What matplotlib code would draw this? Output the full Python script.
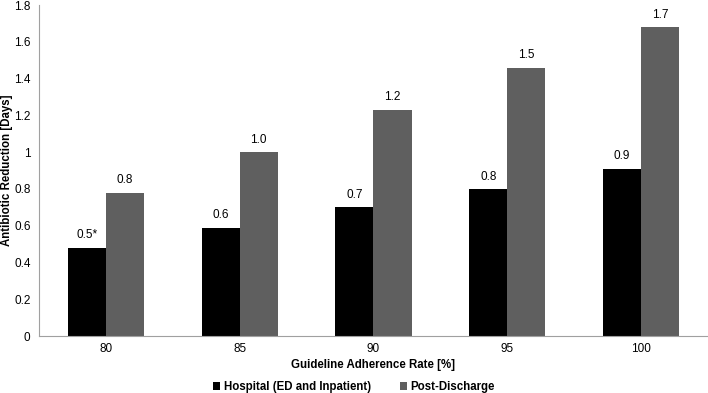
import matplotlib
matplotlib.use('Agg')
import matplotlib.pyplot as plt
import numpy as np

plt.rcParams['font.family'] = ['Liberation Sans', 'DejaVu Sans']

rates = ['80', '85', '90', '95', '100']
hospital = [0.48, 0.59, 0.70, 0.80, 0.91]
post_discharge = [0.78, 1.00, 1.23, 1.46, 1.68]
hospital_labels = ['0.5*', '0.6', '0.7', '0.8', '0.9']
post_labels = ['0.8', '1.0', '1.2', '1.5', '1.7']

fs = 8.5

fig = plt.figure(figsize=(7.08, 3.93), dpi=100)
ax = fig.add_axes([0.055, 0.145, 0.945, 0.842])

x = np.arange(len(rates))
w = 0.285
b1 = ax.bar(x - w/2, hospital, w, color='black', label='Hospital (ED and Inpatient)')
b2 = ax.bar(x + w/2, post_discharge, w, color='#5f5f5f', label='Post-Discharge')

# value labels above bars
for bars, labs in ((b1, hospital_labels), (b2, post_labels)):
    for bar, lab in zip(bars, labs):
        ax.text(bar.get_x() + bar.get_width()/2, bar.get_height() + 0.035, lab,
                ha='center', va='bottom', fontsize=fs)

ax.set_xlim(-0.5, 4.5)
ax.set_ylim(0, 1.8)
ax.set_xticks(x)
ax.set_xticklabels(rates)
yt = np.arange(0, 1.81, 0.2)
ax.set_yticks(yt)
ax.set_yticklabels(['0', '0.2', '0.4', '0.6', '0.8', '1', '1.2', '1.4', '1.6', '1.8'])
ax.tick_params(length=0, labelsize=fs)
ax.tick_params(axis='x', pad=5)
ax.tick_params(axis='y', pad=6)
for s in ['top', 'right']:
    ax.spines[s].set_visible(False)
for s in ['left', 'bottom']:
    ax.spines[s].set_color('#a0a0a0')

ax.set_xlabel('Guideline Adherence Rate [%]', fontsize=8.3, fontweight='bold')
ax.set_ylabel('Antibiotic Reduction [Days]', fontsize=8.3, fontweight='bold')
ax.xaxis.set_label_coords(0.5, -0.068)
ax.yaxis.set_label_coords(-0.039, 0.5)

fig.legend(loc='center', bbox_to_anchor=(0.5, 0.015), ncol=2, frameon=False,
           prop={'weight': 'bold', 'size': 8.3}, handlelength=0.6, handleheight=0.6,
           handletextpad=0.3, columnspacing=2.5)

fig.savefig('out.png', dpi=100)
